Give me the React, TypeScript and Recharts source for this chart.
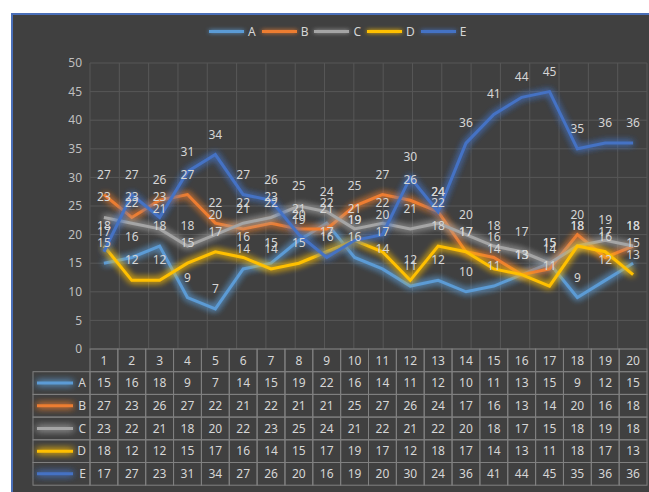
import React from 'react';
import { LineChart, Line, XAxis, YAxis, CartesianGrid, LabelList } from 'recharts';

// Categories along the x axis and the five series plotted over them
const categories = ['1', '2', '3', '4', '5', '6', '7', '8', '9', '10', '11', '12', '13', '14', '15', '16', '17', '18', '19', '20'];
const seriesA = [15, 16, 18, 9, 7, 14, 15, 19, 22, 16, 14, 11, 12, 10, 11, 13, 15, 9, 12, 15];
const seriesB = [27, 23, 26, 27, 22, 21, 22, 21, 21, 25, 27, 26, 24, 17, 16, 13, 14, 20, 16, 18];
const seriesC = [23, 22, 21, 18, 20, 22, 23, 25, 24, 21, 22, 21, 22, 20, 18, 17, 15, 18, 19, 18];
const seriesD = [18, 12, 12, 15, 17, 16, 14, 15, 17, 19, 17, 12, 18, 17, 14, 13, 11, 18, 17, 13];
const seriesE = [17, 27, 23, 31, 34, 27, 26, 20, 16, 19, 20, 30, 24, 36, 41, 44, 45, 35, 36, 36];
const seriesNames = ['A', 'B', 'C', 'D', 'E'];
const yTicks = [0, 5, 10, 15, 20, 25, 30, 35, 40, 45, 50];
const gridTicks = [0, 1, 2, 3, 4, 5, 6, 7, 8, 9, 10, 11, 12, 13, 14, 15, 16, 17, 18, 19, 20];

const seriesValues = [seriesA, seriesB, seriesC, seriesD, seriesE];
const seriesColors = ['#5b9bd5', '#ed7d31', '#a5a5a5', '#ffc000', '#4472c4'];

const data = categories.map((cat, i) => {
  const row: Record<string, string | number> = { cat };
  seriesNames.forEach((name, s) => {
    row[name] = seriesValues[s][i];
  });
  return row;
});

const W = 649;
const H = 492;
const MARGIN = { top: 63, right: 2, left: 0, bottom: 0 };
const Y_AXIS_W = 90;
const X_AXIS_H = 143;
const COL_W = (W - MARGIN.left - Y_AXIS_W - MARGIN.right) / categories.length;
const ROW_H = 22.7;
const HEADER_W = 57;

const FONT = '"Noto Sans", "Liberation Sans", sans-serif';
const TEXT = '#d6d6d6';
const BORDER = '#808080';
const GRID = '#575757';
const BG = '#404040';

// Data table drawn under the plot: one column per category tick
const TableTick = (props: any) => {
  const { x, y, payload, index } = props;
  const col = categories.indexOf(String(payload.value));
  const left = x - COL_W / 2;
  return (
    <g fontFamily={FONT} fontSize={12}>
      {[0, 1, 2, 3, 4, 5].map((r) => (
        <rect key={r} x={left} y={y + r * ROW_H} width={COL_W} height={ROW_H} fill="none" stroke={BORDER} strokeWidth={1} />
      ))}
      <text x={x} y={y + ROW_H / 2} dy="0.35em" textAnchor="middle" fill={TEXT}>
        {payload.value}
      </text>
      {seriesValues.map((vals, s) => (
        <text key={s} x={x} y={y + (s + 1.5) * ROW_H} dy="0.35em" textAnchor="middle" fill={TEXT}>
          {vals[col]}
        </text>
      ))}
      {index === 0 &&
        seriesNames.map((name, s) => (
          <g key={name}>
            <rect x={left - HEADER_W} y={y + (s + 1) * ROW_H} width={HEADER_W} height={ROW_H} fill="none" stroke={BORDER} strokeWidth={1} />
            <line
              x1={left - HEADER_W + 4}
              x2={left - 17}
              y1={y + (s + 1.5) * ROW_H}
              y2={y + (s + 1.5) * ROW_H}
              stroke={seriesColors[s]}
              strokeWidth={3}
              filter="url(#glow)"
            />
            <text x={left - 4} y={y + (s + 1.5) * ROW_H} dy="0.35em" textAnchor="end" fill={TEXT}>
              {name}
            </text>
          </g>
        ))}
    </g>
  );
};

export default function App() {
  return (
    <div style={{ position: 'absolute', left: 0, top: 0, width: W, height: H, background: '#ffffff', fontFamily: FONT }}>
      <div
        style={{
          position: 'absolute',
          left: 11,
          top: 13,
          width: W - 11,
          height: H - 13,
          background: BG,
          borderTop: '2px solid #4a6fb8',
          borderLeft: '2px solid #4a6fb8',
          boxSizing: 'border-box',
        }}
      />
      <div style={{ position: 'absolute', left: 0, top: 0 }}>
        <LineChart width={W} height={H} data={data} margin={MARGIN}>
          <defs>
            <filter id="glow" filterUnits="userSpaceOnUse" x="0" y="0" width={W} height={H}>
              <feGaussianBlur in="SourceGraphic" stdDeviation="3.5" result="blur" />
              <feMerge>
                <feMergeNode in="blur" />
                <feMergeNode in="blur" />
                <feMergeNode in="SourceGraphic" />
              </feMerge>
            </filter>
          </defs>
          <CartesianGrid xAxisId="grid" stroke={GRID} strokeWidth={1} />
          <XAxis
            dataKey="cat"
            type="category"
            interval={0}
            height={X_AXIS_H}
            padding={{ left: COL_W / 2, right: COL_W / 2 }}
            axisLine={false}
            tickLine={false}
            tickSize={0}
            tickMargin={0}
            tick={<TableTick />}
          />
          <XAxis xAxisId="grid" type="number" domain={[0, 20]} ticks={gridTicks} hide />
          <YAxis
            domain={[0, 50]}
            ticks={yTicks}
            interval={0}
            width={Y_AXIS_W}
            axisLine={false}
            tickLine={false}
            tickSize={0}
            tickMargin={8}
            tick={{ fill: '#bfbfbf', fontSize: 12, fontFamily: FONT }}
          />
          {seriesNames.map((name, s) => (
            <Line
              key={name}
              dataKey={name}
              type="linear"
              stroke={seriesColors[s]}
              strokeWidth={3}
              dot={false}
              isAnimationActive={false}
              filter="url(#glow)"
            >
              <LabelList dataKey={name} position="top" offset={16} fill={TEXT} fontSize={12} fontFamily={FONT} />
            </Line>
          ))}
        </LineChart>
      </div>
      <div style={{ position: 'absolute', left: 209, top: 23, display: 'flex', alignItems: 'center', fontSize: 12, color: TEXT }}>
        {seriesNames.map((name, s) => (
          <div key={name} style={{ display: 'flex', alignItems: 'center', marginRight: 6 }}>
            <span
              style={{
                display: 'inline-block',
                width: 35,
                height: 3,
                background: seriesColors[s],
                boxShadow: `0 0 4px ${seriesColors[s]}`,
                marginRight: 4,
              }}
            />
            <span>{name}</span>
          </div>
        ))}
      </div>
    </div>
  );
}
